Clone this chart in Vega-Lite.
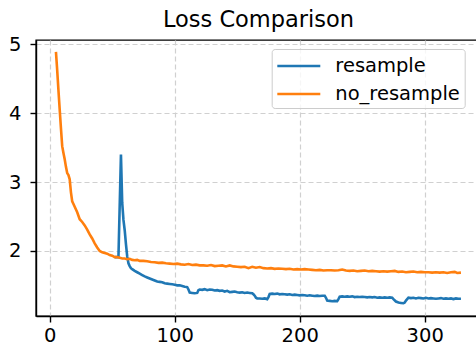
{
  "$schema": "https://vega.github.io/schema/vega-lite/v6.json",
  "width": 445,
  "height": 276,
  "autosize": {"type": "none"},
  "padding": {"left": 36, "top": 40, "right": 0, "bottom": 29},
  "background": "white",
  "title": {"text": "Loss Comparison", "fontSize": 22.5, "font": "DejaVu Sans", "fontWeight": "normal", "color": "black", "anchor": "middle", "baseline": "alphabetic", "offset": -15},
  "config": {
    "view": {"stroke": "black", "strokeWidth": 1.4},
    "axis": {"domainColor": "black", "domainWidth": 1.4, "tickColor": "black", "tickWidth": 1.4, "tickSize": 6, "labelFont": "DejaVu Sans", "labelFontSize": 19.5, "labelColor": "black", "gridColor": "#d0d0d0", "gridDash": [5, 3], "gridWidth": 1.2, "title": null, "labelFlush": false, "labelOverlap": false},
    "legend": {"labelFont": "DejaVu Sans", "labelFontSize": 19.5, "labelColor": "black"}
  },
  "datasets": {
    "loss": [
      {"series":"no_resample","step":5,"loss":4.89},{"series":"no_resample","step":6,"loss":4.62},{"series":"no_resample","step":7,"loss":4.33},{"series":"no_resample","step":8,"loss":4.05},{"series":"no_resample","step":9,"loss":3.78},{"series":"no_resample","step":10,"loss":3.52},{"series":"no_resample","step":11,"loss":3.42},{"series":"no_resample","step":12,"loss":3.33},{"series":"no_resample","step":13,"loss":3.22},{"series":"no_resample","step":14,"loss":3.13},{"series":"no_resample","step":15,"loss":3.1},{"series":"no_resample","step":16,"loss":3.04},{"series":"no_resample","step":17,"loss":2.85},{"series":"no_resample","step":18,"loss":2.72},{"series":"no_resample","step":19,"loss":2.68},{"series":"no_resample","step":20,"loss":2.64},{"series":"no_resample","step":22,"loss":2.56},{"series":"no_resample","step":24,"loss":2.46},{"series":"no_resample","step":26,"loss":2.42},{"series":"no_resample","step":28,"loss":2.37},{"series":"no_resample","step":30,"loss":2.31},{"series":"no_resample","step":32,"loss":2.24},{"series":"no_resample","step":34,"loss":2.18},{"series":"no_resample","step":36,"loss":2.11},{"series":"no_resample","step":38,"loss":2.05},{"series":"no_resample","step":40,"loss":2.0},{"series":"no_resample","step":42,"loss":1.98},{"series":"no_resample","step":44,"loss":1.97},{"series":"no_resample","step":46,"loss":1.96},{"series":"no_resample","step":48,"loss":1.94},{"series":"no_resample","step":50,"loss":1.93},{"series":"no_resample","step":52,"loss":1.91},{"series":"no_resample","step":54,"loss":1.91},{"series":"no_resample","step":56,"loss":1.9},{"series":"no_resample","step":58,"loss":1.89},{"series":"no_resample","step":60,"loss":1.89},{"series":"no_resample","step":62,"loss":1.88},{"series":"no_resample","step":64,"loss":1.885},{"series":"no_resample","step":66,"loss":1.87},{"series":"no_resample","step":68,"loss":1.865},{"series":"no_resample","step":70,"loss":1.87},{"series":"no_resample","step":72,"loss":1.855},{"series":"no_resample","step":75,"loss":1.855},{"series":"no_resample","step":78,"loss":1.85},{"series":"no_resample","step":81,"loss":1.84},{"series":"no_resample","step":84,"loss":1.835},{"series":"no_resample","step":87,"loss":1.826},{"series":"no_resample","step":90,"loss":1.83},{"series":"no_resample","step":93,"loss":1.82},{"series":"no_resample","step":96,"loss":1.815},{"series":"no_resample","step":99,"loss":1.81},{"series":"no_resample","step":102,"loss":1.815},{"series":"no_resample","step":105,"loss":1.805},{"series":"no_resample","step":108,"loss":1.8},{"series":"no_resample","step":111,"loss":1.81},{"series":"no_resample","step":114,"loss":1.795},{"series":"no_resample","step":117,"loss":1.8},{"series":"no_resample","step":120,"loss":1.79},{"series":"no_resample","step":123,"loss":1.79},{"series":"no_resample","step":126,"loss":1.785},{"series":"no_resample","step":129,"loss":1.795},{"series":"no_resample","step":132,"loss":1.78},{"series":"no_resample","step":135,"loss":1.785},{"series":"no_resample","step":138,"loss":1.79},{"series":"no_resample","step":141,"loss":1.775},{"series":"no_resample","step":144,"loss":1.79},{"series":"no_resample","step":147,"loss":1.775},{"series":"no_resample","step":150,"loss":1.77},{"series":"no_resample","step":153,"loss":1.765},{"series":"no_resample","step":156,"loss":1.77},{"series":"no_resample","step":159,"loss":1.75},{"series":"no_resample","step":162,"loss":1.77},{"series":"no_resample","step":165,"loss":1.755},{"series":"no_resample","step":168,"loss":1.765},{"series":"no_resample","step":171,"loss":1.75},{"series":"no_resample","step":174,"loss":1.745},{"series":"no_resample","step":177,"loss":1.75},{"series":"no_resample","step":180,"loss":1.74},{"series":"no_resample","step":183,"loss":1.745},{"series":"no_resample","step":186,"loss":1.74},{"series":"no_resample","step":189,"loss":1.735},{"series":"no_resample","step":192,"loss":1.74},{"series":"no_resample","step":195,"loss":1.73},{"series":"no_resample","step":198,"loss":1.735},{"series":"no_resample","step":201,"loss":1.73},{"series":"no_resample","step":204,"loss":1.735},{"series":"no_resample","step":207,"loss":1.73},{"series":"no_resample","step":210,"loss":1.725},{"series":"no_resample","step":213,"loss":1.72},{"series":"no_resample","step":216,"loss":1.725},{"series":"no_resample","step":219,"loss":1.715},{"series":"no_resample","step":222,"loss":1.72},{"series":"no_resample","step":225,"loss":1.72},{"series":"no_resample","step":228,"loss":1.715},{"series":"no_resample","step":231,"loss":1.72},{"series":"no_resample","step":234,"loss":1.73},{"series":"no_resample","step":237,"loss":1.715},{"series":"no_resample","step":240,"loss":1.71},{"series":"no_resample","step":243,"loss":1.715},{"series":"no_resample","step":246,"loss":1.705},{"series":"no_resample","step":249,"loss":1.71},{"series":"no_resample","step":252,"loss":1.715},{"series":"no_resample","step":255,"loss":1.705},{"series":"no_resample","step":258,"loss":1.71},{"series":"no_resample","step":261,"loss":1.705},{"series":"no_resample","step":264,"loss":1.7},{"series":"no_resample","step":267,"loss":1.705},{"series":"no_resample","step":270,"loss":1.7},{"series":"no_resample","step":273,"loss":1.705},{"series":"no_resample","step":276,"loss":1.71},{"series":"no_resample","step":279,"loss":1.695},{"series":"no_resample","step":282,"loss":1.7},{"series":"no_resample","step":285,"loss":1.69},{"series":"no_resample","step":288,"loss":1.695},{"series":"no_resample","step":291,"loss":1.7},{"series":"no_resample","step":294,"loss":1.69},{"series":"no_resample","step":297,"loss":1.695},{"series":"no_resample","step":300,"loss":1.69},{"series":"no_resample","step":303,"loss":1.69},{"series":"no_resample","step":306,"loss":1.685},{"series":"no_resample","step":309,"loss":1.69},{"series":"no_resample","step":312,"loss":1.685},{"series":"no_resample","step":315,"loss":1.69},{"series":"no_resample","step":318,"loss":1.68},{"series":"no_resample","step":321,"loss":1.69},{"series":"no_resample","step":324,"loss":1.695},{"series":"no_resample","step":326,"loss":1.68},{"series":"no_resample","step":329,"loss":1.685},
      {"series":"resample","step":52,"loss":1.91},{"series":"resample","step":54,"loss":1.91},{"series":"resample","step":55,"loss":1.91},{"series":"resample","step":56,"loss":2.66},{"series":"resample","step":57,"loss":3.4},{"series":"resample","step":58,"loss":2.7},{"series":"resample","step":59,"loss":2.45},{"series":"resample","step":60,"loss":2.3},{"series":"resample","step":61,"loss":2.1},{"series":"resample","step":62,"loss":1.92},{"series":"resample","step":63,"loss":1.82},{"series":"resample","step":64,"loss":1.78},{"series":"resample","step":65,"loss":1.75},{"series":"resample","step":66,"loss":1.735},{"series":"resample","step":68,"loss":1.71},{"series":"resample","step":70,"loss":1.69},{"series":"resample","step":72,"loss":1.67},{"series":"resample","step":74,"loss":1.65},{"series":"resample","step":76,"loss":1.63},{"series":"resample","step":78,"loss":1.615},{"series":"resample","step":80,"loss":1.6},{"series":"resample","step":82,"loss":1.585},{"series":"resample","step":84,"loss":1.57},{"series":"resample","step":86,"loss":1.555},{"series":"resample","step":88,"loss":1.55},{"series":"resample","step":90,"loss":1.545},{"series":"resample","step":92,"loss":1.53},{"series":"resample","step":94,"loss":1.525},{"series":"resample","step":96,"loss":1.52},{"series":"resample","step":98,"loss":1.515},{"series":"resample","step":100,"loss":1.51},{"series":"resample","step":102,"loss":1.5},{"series":"resample","step":104,"loss":1.5},{"series":"resample","step":106,"loss":1.49},{"series":"resample","step":108,"loss":1.48},{"series":"resample","step":110,"loss":1.475},{"series":"resample","step":111,"loss":1.44},{"series":"resample","step":112,"loss":1.395},{"series":"resample","step":114,"loss":1.39},{"series":"resample","step":116,"loss":1.385},{"series":"resample","step":118,"loss":1.39},{"series":"resample","step":119,"loss":1.43},{"series":"resample","step":120,"loss":1.44},{"series":"resample","step":122,"loss":1.435},{"series":"resample","step":124,"loss":1.445},{"series":"resample","step":126,"loss":1.43},{"series":"resample","step":128,"loss":1.44},{"series":"resample","step":130,"loss":1.435},{"series":"resample","step":132,"loss":1.425},{"series":"resample","step":134,"loss":1.43},{"series":"resample","step":136,"loss":1.42},{"series":"resample","step":138,"loss":1.425},{"series":"resample","step":140,"loss":1.41},{"series":"resample","step":142,"loss":1.42},{"series":"resample","step":144,"loss":1.4},{"series":"resample","step":146,"loss":1.405},{"series":"resample","step":148,"loss":1.41},{"series":"resample","step":150,"loss":1.4},{"series":"resample","step":152,"loss":1.395},{"series":"resample","step":154,"loss":1.4},{"series":"resample","step":156,"loss":1.39},{"series":"resample","step":158,"loss":1.395},{"series":"resample","step":160,"loss":1.39},{"series":"resample","step":162,"loss":1.385},{"series":"resample","step":163,"loss":1.37},{"series":"resample","step":164,"loss":1.35},{"series":"resample","step":165,"loss":1.32},{"series":"resample","step":166,"loss":1.31},{"series":"resample","step":168,"loss":1.31},{"series":"resample","step":170,"loss":1.305},{"series":"resample","step":172,"loss":1.31},{"series":"resample","step":174,"loss":1.3},{"series":"resample","step":175,"loss":1.33},{"series":"resample","step":176,"loss":1.375},{"series":"resample","step":178,"loss":1.38},{"series":"resample","step":180,"loss":1.375},{"series":"resample","step":182,"loss":1.38},{"series":"resample","step":184,"loss":1.37},{"series":"resample","step":186,"loss":1.375},{"series":"resample","step":188,"loss":1.37},{"series":"resample","step":190,"loss":1.365},{"series":"resample","step":192,"loss":1.37},{"series":"resample","step":194,"loss":1.36},{"series":"resample","step":196,"loss":1.365},{"series":"resample","step":198,"loss":1.36},{"series":"resample","step":200,"loss":1.355},{"series":"resample","step":202,"loss":1.36},{"series":"resample","step":204,"loss":1.355},{"series":"resample","step":206,"loss":1.35},{"series":"resample","step":208,"loss":1.355},{"series":"resample","step":210,"loss":1.35},{"series":"resample","step":212,"loss":1.345},{"series":"resample","step":214,"loss":1.35},{"series":"resample","step":216,"loss":1.345},{"series":"resample","step":218,"loss":1.35},{"series":"resample","step":220,"loss":1.35},{"series":"resample","step":221,"loss":1.32},{"series":"resample","step":222,"loss":1.28},{"series":"resample","step":224,"loss":1.275},{"series":"resample","step":226,"loss":1.27},{"series":"resample","step":228,"loss":1.275},{"series":"resample","step":230,"loss":1.27},{"series":"resample","step":231,"loss":1.3},{"series":"resample","step":232,"loss":1.335},{"series":"resample","step":234,"loss":1.34},{"series":"resample","step":236,"loss":1.335},{"series":"resample","step":238,"loss":1.34},{"series":"resample","step":240,"loss":1.335},{"series":"resample","step":242,"loss":1.34},{"series":"resample","step":244,"loss":1.33},{"series":"resample","step":246,"loss":1.335},{"series":"resample","step":248,"loss":1.33},{"series":"resample","step":250,"loss":1.335},{"series":"resample","step":252,"loss":1.33},{"series":"resample","step":254,"loss":1.325},{"series":"resample","step":256,"loss":1.33},{"series":"resample","step":258,"loss":1.325},{"series":"resample","step":260,"loss":1.33},{"series":"resample","step":262,"loss":1.32},{"series":"resample","step":264,"loss":1.325},{"series":"resample","step":266,"loss":1.32},{"series":"resample","step":268,"loss":1.325},{"series":"resample","step":270,"loss":1.32},{"series":"resample","step":272,"loss":1.325},{"series":"resample","step":274,"loss":1.32},{"series":"resample","step":275,"loss":1.3},{"series":"resample","step":277,"loss":1.265},{"series":"resample","step":279,"loss":1.25},{"series":"resample","step":281,"loss":1.245},{"series":"resample","step":283,"loss":1.24},{"series":"resample","step":284,"loss":1.25},{"series":"resample","step":285,"loss":1.28},{"series":"resample","step":287,"loss":1.32},{"series":"resample","step":289,"loss":1.315},{"series":"resample","step":291,"loss":1.32},{"series":"resample","step":293,"loss":1.31},{"series":"resample","step":295,"loss":1.32},{"series":"resample","step":297,"loss":1.315},{"series":"resample","step":299,"loss":1.31},{"series":"resample","step":301,"loss":1.32},{"series":"resample","step":303,"loss":1.31},{"series":"resample","step":305,"loss":1.315},{"series":"resample","step":307,"loss":1.31},{"series":"resample","step":309,"loss":1.305},{"series":"resample","step":311,"loss":1.31},{"series":"resample","step":313,"loss":1.315},{"series":"resample","step":315,"loss":1.305},{"series":"resample","step":317,"loss":1.31},{"series":"resample","step":319,"loss":1.305},{"series":"resample","step":321,"loss":1.31},{"series":"resample","step":323,"loss":1.3},{"series":"resample","step":325,"loss":1.31},{"series":"resample","step":327,"loss":1.305},{"series":"resample","step":329,"loss":1.305}
    ]
  },
  "data": {"name": "loss"},
  "encoding": {
    "x": {"field": "step", "type": "quantitative", "scale": {"domain": [-10.96, 345.04], "nice": false, "zero": false}, "axis": {"values": [0, 100, 200, 300], "grid": true, "labelPadding": 4}},
    "y": {"field": "loss", "type": "quantitative", "scale": {"domain": [1.055, 5.062], "nice": false, "zero": false}, "axis": {"values": [2, 3, 4, 5], "grid": true, "labelPadding": 9}},
    "color": {"field": "series", "type": "nominal", "scale": {"domain": ["resample", "no_resample"], "range": ["#1f77b4", "#ff7f0e"]},
      "legend": {"title": null, "orient": "none", "legendX": 235.7, "legendY": 9, "direction": "vertical", "symbolType": "M-2,0H2", "symbolSize": 462, "symbolStrokeWidth": 2.7, "symbolOffset": 10.1, "labelOffset": 24, "padding": 4.5, "fillColor": "rgba(255,255,255,0.8)", "strokeColor": "#cccccc", "cornerRadius": 3, "rowPadding": 6}}
  },
  "layer": [
    {"transform": [{"filter": "datum.series === 'resample'"}], "mark": {"type": "line", "strokeWidth": 2.6, "clip": true}},
    {"transform": [{"filter": "datum.series === 'no_resample'"}], "mark": {"type": "line", "strokeWidth": 2.6, "clip": true}}
  ]
}
